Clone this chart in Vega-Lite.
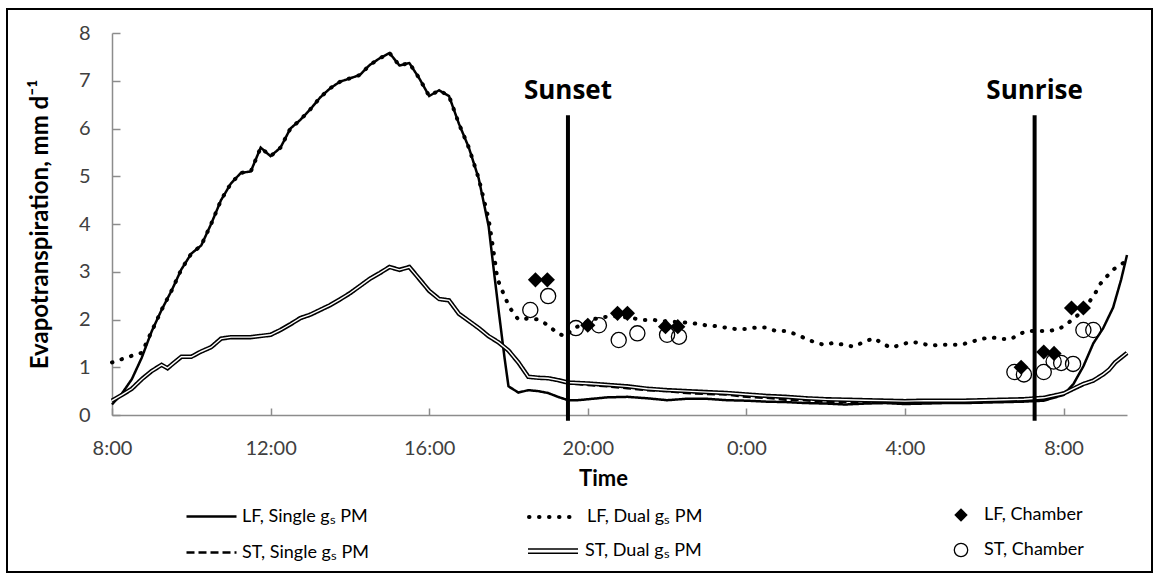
{
  "$schema": "https://vega.github.io/schema/vega-lite/v6.json",
  "width": 1145,
  "height": 563,
  "autosize": {"type": "none"},
  "padding": {"left": 7, "top": 9, "right": 8, "bottom": 8},
  "background": "white",
  "datasets": {
    "lines": [
      {"s": "LF, Single gₛ PM", "h": 8.0, "v": 0.22},
      {"s": "LF, Single gₛ PM", "h": 8.25, "v": 0.45},
      {"s": "LF, Single gₛ PM", "h": 8.5, "v": 0.75},
      {"s": "LF, Single gₛ PM", "h": 8.75, "v": 1.2},
      {"s": "LF, Single gₛ PM", "h": 9.0, "v": 1.75},
      {"s": "LF, Single gₛ PM", "h": 9.25, "v": 2.2},
      {"s": "LF, Single gₛ PM", "h": 9.5, "v": 2.6},
      {"s": "LF, Single gₛ PM", "h": 9.75, "v": 3.05},
      {"s": "LF, Single gₛ PM", "h": 10.0, "v": 3.38},
      {"s": "LF, Single gₛ PM", "h": 10.25, "v": 3.55},
      {"s": "LF, Single gₛ PM", "h": 10.5, "v": 4.0},
      {"s": "LF, Single gₛ PM", "h": 10.75, "v": 4.5},
      {"s": "LF, Single gₛ PM", "h": 11.0, "v": 4.85},
      {"s": "LF, Single gₛ PM", "h": 11.25, "v": 5.07},
      {"s": "LF, Single gₛ PM", "h": 11.5, "v": 5.1},
      {"s": "LF, Single gₛ PM", "h": 11.75, "v": 5.6},
      {"s": "LF, Single gₛ PM", "h": 12.0, "v": 5.42},
      {"s": "LF, Single gₛ PM", "h": 12.25, "v": 5.6},
      {"s": "LF, Single gₛ PM", "h": 12.5, "v": 6.0},
      {"s": "LF, Single gₛ PM", "h": 12.75, "v": 6.18},
      {"s": "LF, Single gₛ PM", "h": 13.0, "v": 6.4},
      {"s": "LF, Single gₛ PM", "h": 13.25, "v": 6.65},
      {"s": "LF, Single gₛ PM", "h": 13.5, "v": 6.84},
      {"s": "LF, Single gₛ PM", "h": 13.75, "v": 6.98},
      {"s": "LF, Single gₛ PM", "h": 14.0, "v": 7.05},
      {"s": "LF, Single gₛ PM", "h": 14.25, "v": 7.12},
      {"s": "LF, Single gₛ PM", "h": 14.5, "v": 7.33},
      {"s": "LF, Single gₛ PM", "h": 14.75, "v": 7.47},
      {"s": "LF, Single gₛ PM", "h": 15.0, "v": 7.58},
      {"s": "LF, Single gₛ PM", "h": 15.25, "v": 7.32},
      {"s": "LF, Single gₛ PM", "h": 15.5, "v": 7.37},
      {"s": "LF, Single gₛ PM", "h": 15.75, "v": 7.05},
      {"s": "LF, Single gₛ PM", "h": 16.0, "v": 6.68},
      {"s": "LF, Single gₛ PM", "h": 16.25, "v": 6.8},
      {"s": "LF, Single gₛ PM", "h": 16.5, "v": 6.68},
      {"s": "LF, Single gₛ PM", "h": 16.75, "v": 6.1},
      {"s": "LF, Single gₛ PM", "h": 17.0, "v": 5.6},
      {"s": "LF, Single gₛ PM", "h": 17.25, "v": 4.95},
      {"s": "LF, Single gₛ PM", "h": 17.5, "v": 3.95},
      {"s": "LF, Single gₛ PM", "h": 17.62, "v": 3.1},
      {"s": "LF, Single gₛ PM", "h": 17.75, "v": 2.2},
      {"s": "LF, Single gₛ PM", "h": 17.9, "v": 1.2},
      {"s": "LF, Single gₛ PM", "h": 18.0, "v": 0.6},
      {"s": "LF, Single gₛ PM", "h": 18.25, "v": 0.47},
      {"s": "LF, Single gₛ PM", "h": 18.5, "v": 0.52},
      {"s": "LF, Single gₛ PM", "h": 18.75, "v": 0.5},
      {"s": "LF, Single gₛ PM", "h": 19.0, "v": 0.46},
      {"s": "LF, Single gₛ PM", "h": 19.25, "v": 0.38},
      {"s": "LF, Single gₛ PM", "h": 19.5, "v": 0.31},
      {"s": "LF, Single gₛ PM", "h": 19.75, "v": 0.31},
      {"s": "LF, Single gₛ PM", "h": 20.0, "v": 0.33},
      {"s": "LF, Single gₛ PM", "h": 20.5, "v": 0.37},
      {"s": "LF, Single gₛ PM", "h": 21.0, "v": 0.38},
      {"s": "LF, Single gₛ PM", "h": 21.5, "v": 0.35},
      {"s": "LF, Single gₛ PM", "h": 22.0, "v": 0.31},
      {"s": "LF, Single gₛ PM", "h": 22.5, "v": 0.34},
      {"s": "LF, Single gₛ PM", "h": 23.0, "v": 0.34},
      {"s": "LF, Single gₛ PM", "h": 23.5, "v": 0.31},
      {"s": "LF, Single gₛ PM", "h": 24.0, "v": 0.3},
      {"s": "LF, Single gₛ PM", "h": 24.5, "v": 0.28},
      {"s": "LF, Single gₛ PM", "h": 25.0, "v": 0.27},
      {"s": "LF, Single gₛ PM", "h": 25.5, "v": 0.25},
      {"s": "LF, Single gₛ PM", "h": 26.0, "v": 0.24},
      {"s": "LF, Single gₛ PM", "h": 26.5, "v": 0.22},
      {"s": "LF, Single gₛ PM", "h": 27.0, "v": 0.24},
      {"s": "LF, Single gₛ PM", "h": 27.5, "v": 0.25},
      {"s": "LF, Single gₛ PM", "h": 28.0, "v": 0.23},
      {"s": "LF, Single gₛ PM", "h": 28.5, "v": 0.24},
      {"s": "LF, Single gₛ PM", "h": 29.0, "v": 0.25},
      {"s": "LF, Single gₛ PM", "h": 29.5, "v": 0.25},
      {"s": "LF, Single gₛ PM", "h": 30.0, "v": 0.26},
      {"s": "LF, Single gₛ PM", "h": 30.5, "v": 0.27},
      {"s": "LF, Single gₛ PM", "h": 31.0, "v": 0.28},
      {"s": "LF, Single gₛ PM", "h": 31.5, "v": 0.3},
      {"s": "LF, Single gₛ PM", "h": 32.0, "v": 0.42},
      {"s": "LF, Single gₛ PM", "h": 32.25, "v": 0.65},
      {"s": "LF, Single gₛ PM", "h": 32.5, "v": 1.02},
      {"s": "LF, Single gₛ PM", "h": 32.75, "v": 1.5},
      {"s": "LF, Single gₛ PM", "h": 33.0, "v": 1.82},
      {"s": "LF, Single gₛ PM", "h": 33.25, "v": 2.25},
      {"s": "LF, Single gₛ PM", "h": 33.45, "v": 2.83},
      {"s": "LF, Single gₛ PM", "h": 33.6, "v": 3.35},

      {"s": "ST, Single gₛ PM", "h": 8.0, "v": 0.3},
      {"s": "ST, Single gₛ PM", "h": 8.25, "v": 0.42},
      {"s": "ST, Single gₛ PM", "h": 8.5, "v": 0.55},
      {"s": "ST, Single gₛ PM", "h": 8.75, "v": 0.75},
      {"s": "ST, Single gₛ PM", "h": 9.0, "v": 0.92},
      {"s": "ST, Single gₛ PM", "h": 9.25, "v": 1.05},
      {"s": "ST, Single gₛ PM", "h": 9.4, "v": 0.98},
      {"s": "ST, Single gₛ PM", "h": 9.5, "v": 1.05},
      {"s": "ST, Single gₛ PM", "h": 9.75, "v": 1.22},
      {"s": "ST, Single gₛ PM", "h": 10.0, "v": 1.22},
      {"s": "ST, Single gₛ PM", "h": 10.25, "v": 1.33},
      {"s": "ST, Single gₛ PM", "h": 10.5, "v": 1.42},
      {"s": "ST, Single gₛ PM", "h": 10.75, "v": 1.6},
      {"s": "ST, Single gₛ PM", "h": 11.0, "v": 1.63},
      {"s": "ST, Single gₛ PM", "h": 11.5, "v": 1.63},
      {"s": "ST, Single gₛ PM", "h": 12.0, "v": 1.68},
      {"s": "ST, Single gₛ PM", "h": 12.25, "v": 1.78},
      {"s": "ST, Single gₛ PM", "h": 12.5, "v": 1.9},
      {"s": "ST, Single gₛ PM", "h": 12.75, "v": 2.03},
      {"s": "ST, Single gₛ PM", "h": 13.0, "v": 2.1},
      {"s": "ST, Single gₛ PM", "h": 13.25, "v": 2.2},
      {"s": "ST, Single gₛ PM", "h": 13.5, "v": 2.3},
      {"s": "ST, Single gₛ PM", "h": 13.75, "v": 2.42},
      {"s": "ST, Single gₛ PM", "h": 14.0, "v": 2.55},
      {"s": "ST, Single gₛ PM", "h": 14.25, "v": 2.7},
      {"s": "ST, Single gₛ PM", "h": 14.5, "v": 2.85},
      {"s": "ST, Single gₛ PM", "h": 14.75, "v": 2.97},
      {"s": "ST, Single gₛ PM", "h": 15.0, "v": 3.1},
      {"s": "ST, Single gₛ PM", "h": 15.25, "v": 3.04},
      {"s": "ST, Single gₛ PM", "h": 15.5, "v": 3.1},
      {"s": "ST, Single gₛ PM", "h": 15.75, "v": 2.85},
      {"s": "ST, Single gₛ PM", "h": 16.0, "v": 2.6},
      {"s": "ST, Single gₛ PM", "h": 16.25, "v": 2.43},
      {"s": "ST, Single gₛ PM", "h": 16.5, "v": 2.4},
      {"s": "ST, Single gₛ PM", "h": 16.75, "v": 2.12},
      {"s": "ST, Single gₛ PM", "h": 17.0, "v": 1.97},
      {"s": "ST, Single gₛ PM", "h": 17.25, "v": 1.82},
      {"s": "ST, Single gₛ PM", "h": 17.5, "v": 1.65},
      {"s": "ST, Single gₛ PM", "h": 17.75, "v": 1.52},
      {"s": "ST, Single gₛ PM", "h": 18.0, "v": 1.35},
      {"s": "ST, Single gₛ PM", "h": 18.25, "v": 1.1},
      {"s": "ST, Single gₛ PM", "h": 18.5, "v": 0.8},
      {"s": "ST, Single gₛ PM", "h": 18.75, "v": 0.78},
      {"s": "ST, Single gₛ PM", "h": 19.0, "v": 0.77},
      {"s": "ST, Single gₛ PM", "h": 19.25, "v": 0.72},
      {"s": "ST, Single gₛ PM", "h": 19.5, "v": 0.67},
      {"s": "ST, Single gₛ PM", "h": 20.0, "v": 0.63},
      {"s": "ST, Single gₛ PM", "h": 20.5, "v": 0.6},
      {"s": "ST, Single gₛ PM", "h": 21.0, "v": 0.56},
      {"s": "ST, Single gₛ PM", "h": 21.5, "v": 0.52},
      {"s": "ST, Single gₛ PM", "h": 22.0, "v": 0.5},
      {"s": "ST, Single gₛ PM", "h": 22.5, "v": 0.46},
      {"s": "ST, Single gₛ PM", "h": 23.0, "v": 0.44},
      {"s": "ST, Single gₛ PM", "h": 23.5, "v": 0.43},
      {"s": "ST, Single gₛ PM", "h": 24.0, "v": 0.38},
      {"s": "ST, Single gₛ PM", "h": 24.5, "v": 0.36},
      {"s": "ST, Single gₛ PM", "h": 25.0, "v": 0.32},
      {"s": "ST, Single gₛ PM", "h": 25.5, "v": 0.31},
      {"s": "ST, Single gₛ PM", "h": 26.0, "v": 0.27},
      {"s": "ST, Single gₛ PM", "h": 26.5, "v": 0.28},
      {"s": "ST, Single gₛ PM", "h": 27.0, "v": 0.26},
      {"s": "ST, Single gₛ PM", "h": 27.5, "v": 0.27},
      {"s": "ST, Single gₛ PM", "h": 28.0, "v": 0.25},
      {"s": "ST, Single gₛ PM", "h": 28.5, "v": 0.27},
      {"s": "ST, Single gₛ PM", "h": 29.0, "v": 0.27},
      {"s": "ST, Single gₛ PM", "h": 29.5, "v": 0.28},
      {"s": "ST, Single gₛ PM", "h": 30.0, "v": 0.29},
      {"s": "ST, Single gₛ PM", "h": 30.5, "v": 0.3},
      {"s": "ST, Single gₛ PM", "h": 31.0, "v": 0.31},
      {"s": "ST, Single gₛ PM", "h": 31.5, "v": 0.35},
      {"s": "ST, Single gₛ PM", "h": 32.0, "v": 0.44},
      {"s": "ST, Single gₛ PM", "h": 32.25, "v": 0.54},
      {"s": "ST, Single gₛ PM", "h": 32.5, "v": 0.63},
      {"s": "ST, Single gₛ PM", "h": 32.75, "v": 0.72},
      {"s": "ST, Single gₛ PM", "h": 33.0, "v": 0.85},
      {"s": "ST, Single gₛ PM", "h": 33.15, "v": 0.95},
      {"s": "ST, Single gₛ PM", "h": 33.3, "v": 1.1},
      {"s": "ST, Single gₛ PM", "h": 33.45, "v": 1.2},
      {"s": "ST, Single gₛ PM", "h": 33.6, "v": 1.3},

      {"s": "LF, Dual gₛ PM", "h": 8.0, "v": 1.1},
      {"s": "LF, Dual gₛ PM", "h": 8.25, "v": 1.17},
      {"s": "LF, Dual gₛ PM", "h": 8.5, "v": 1.24},
      {"s": "LF, Dual gₛ PM", "h": 8.75, "v": 1.3},
      {"s": "LF, Dual gₛ PM", "h": 9.0, "v": 1.75},
      {"s": "LF, Dual gₛ PM", "h": 9.25, "v": 2.2},
      {"s": "LF, Dual gₛ PM", "h": 9.5, "v": 2.6},
      {"s": "LF, Dual gₛ PM", "h": 9.75, "v": 3.05},
      {"s": "LF, Dual gₛ PM", "h": 10.0, "v": 3.38},
      {"s": "LF, Dual gₛ PM", "h": 10.25, "v": 3.55},
      {"s": "LF, Dual gₛ PM", "h": 10.5, "v": 4.0},
      {"s": "LF, Dual gₛ PM", "h": 10.75, "v": 4.5},
      {"s": "LF, Dual gₛ PM", "h": 11.0, "v": 4.85},
      {"s": "LF, Dual gₛ PM", "h": 11.25, "v": 5.07},
      {"s": "LF, Dual gₛ PM", "h": 11.5, "v": 5.1},
      {"s": "LF, Dual gₛ PM", "h": 11.75, "v": 5.6},
      {"s": "LF, Dual gₛ PM", "h": 12.0, "v": 5.42},
      {"s": "LF, Dual gₛ PM", "h": 12.25, "v": 5.6},
      {"s": "LF, Dual gₛ PM", "h": 12.5, "v": 6.0},
      {"s": "LF, Dual gₛ PM", "h": 12.75, "v": 6.18},
      {"s": "LF, Dual gₛ PM", "h": 13.0, "v": 6.4},
      {"s": "LF, Dual gₛ PM", "h": 13.25, "v": 6.65},
      {"s": "LF, Dual gₛ PM", "h": 13.5, "v": 6.84},
      {"s": "LF, Dual gₛ PM", "h": 13.75, "v": 6.98},
      {"s": "LF, Dual gₛ PM", "h": 14.0, "v": 7.05},
      {"s": "LF, Dual gₛ PM", "h": 14.25, "v": 7.12},
      {"s": "LF, Dual gₛ PM", "h": 14.5, "v": 7.33},
      {"s": "LF, Dual gₛ PM", "h": 14.75, "v": 7.47},
      {"s": "LF, Dual gₛ PM", "h": 15.0, "v": 7.58},
      {"s": "LF, Dual gₛ PM", "h": 15.25, "v": 7.32},
      {"s": "LF, Dual gₛ PM", "h": 15.5, "v": 7.37},
      {"s": "LF, Dual gₛ PM", "h": 15.75, "v": 7.05},
      {"s": "LF, Dual gₛ PM", "h": 16.0, "v": 6.68},
      {"s": "LF, Dual gₛ PM", "h": 16.25, "v": 6.8},
      {"s": "LF, Dual gₛ PM", "h": 16.5, "v": 6.68},
      {"s": "LF, Dual gₛ PM", "h": 16.75, "v": 6.1},
      {"s": "LF, Dual gₛ PM", "h": 17.0, "v": 5.6},
      {"s": "LF, Dual gₛ PM", "h": 17.25, "v": 4.95},
      {"s": "LF, Dual gₛ PM", "h": 17.5, "v": 4.1},
      {"s": "LF, Dual gₛ PM", "h": 17.62, "v": 3.45},
      {"s": "LF, Dual gₛ PM", "h": 17.72, "v": 2.85},
      {"s": "LF, Dual gₛ PM", "h": 17.87, "v": 2.55},
      {"s": "LF, Dual gₛ PM", "h": 18.0, "v": 2.3},
      {"s": "LF, Dual gₛ PM", "h": 18.1, "v": 2.16},
      {"s": "LF, Dual gₛ PM", "h": 18.25, "v": 2.0},
      {"s": "LF, Dual gₛ PM", "h": 18.5, "v": 2.02},
      {"s": "LF, Dual gₛ PM", "h": 18.75, "v": 2.0},
      {"s": "LF, Dual gₛ PM", "h": 19.0, "v": 1.88},
      {"s": "LF, Dual gₛ PM", "h": 19.25, "v": 1.7},
      {"s": "LF, Dual gₛ PM", "h": 19.45, "v": 1.65},
      {"s": "LF, Dual gₛ PM", "h": 19.6, "v": 1.8},
      {"s": "LF, Dual gₛ PM", "h": 19.82, "v": 1.88},
      {"s": "LF, Dual gₛ PM", "h": 20.07, "v": 1.99},
      {"s": "LF, Dual gₛ PM", "h": 20.37, "v": 2.05},
      {"s": "LF, Dual gₛ PM", "h": 20.75, "v": 2.07},
      {"s": "LF, Dual gₛ PM", "h": 21.1, "v": 2.03},
      {"s": "LF, Dual gₛ PM", "h": 21.4, "v": 1.99},
      {"s": "LF, Dual gₛ PM", "h": 21.66, "v": 1.99},
      {"s": "LF, Dual gₛ PM", "h": 22.0, "v": 1.96},
      {"s": "LF, Dual gₛ PM", "h": 22.4, "v": 1.94},
      {"s": "LF, Dual gₛ PM", "h": 22.67, "v": 1.92},
      {"s": "LF, Dual gₛ PM", "h": 22.97, "v": 1.88},
      {"s": "LF, Dual gₛ PM", "h": 23.23, "v": 1.86},
      {"s": "LF, Dual gₛ PM", "h": 23.48, "v": 1.83},
      {"s": "LF, Dual gₛ PM", "h": 23.73, "v": 1.8},
      {"s": "LF, Dual gₛ PM", "h": 23.98, "v": 1.8},
      {"s": "LF, Dual gₛ PM", "h": 24.24, "v": 1.83},
      {"s": "LF, Dual gₛ PM", "h": 24.49, "v": 1.83},
      {"s": "LF, Dual gₛ PM", "h": 24.74, "v": 1.76},
      {"s": "LF, Dual gₛ PM", "h": 25.0, "v": 1.76},
      {"s": "LF, Dual gₛ PM", "h": 25.25, "v": 1.69},
      {"s": "LF, Dual gₛ PM", "h": 25.5, "v": 1.6},
      {"s": "LF, Dual gₛ PM", "h": 25.7, "v": 1.53},
      {"s": "LF, Dual gₛ PM", "h": 25.95, "v": 1.47},
      {"s": "LF, Dual gₛ PM", "h": 26.2, "v": 1.51},
      {"s": "LF, Dual gₛ PM", "h": 26.46, "v": 1.47},
      {"s": "LF, Dual gₛ PM", "h": 26.71, "v": 1.43},
      {"s": "LF, Dual gₛ PM", "h": 26.96, "v": 1.53},
      {"s": "LF, Dual gₛ PM", "h": 27.22, "v": 1.61},
      {"s": "LF, Dual gₛ PM", "h": 27.44, "v": 1.49},
      {"s": "LF, Dual gₛ PM", "h": 27.65, "v": 1.41},
      {"s": "LF, Dual gₛ PM", "h": 27.9, "v": 1.47},
      {"s": "LF, Dual gₛ PM", "h": 28.13, "v": 1.53},
      {"s": "LF, Dual gₛ PM", "h": 28.38, "v": 1.51},
      {"s": "LF, Dual gₛ PM", "h": 28.63, "v": 1.45},
      {"s": "LF, Dual gₛ PM", "h": 28.88, "v": 1.47},
      {"s": "LF, Dual gₛ PM", "h": 29.14, "v": 1.47},
      {"s": "LF, Dual gₛ PM", "h": 29.4, "v": 1.47},
      {"s": "LF, Dual gₛ PM", "h": 29.67, "v": 1.53},
      {"s": "LF, Dual gₛ PM", "h": 29.92, "v": 1.59},
      {"s": "LF, Dual gₛ PM", "h": 30.17, "v": 1.63},
      {"s": "LF, Dual gₛ PM", "h": 30.42, "v": 1.59},
      {"s": "LF, Dual gₛ PM", "h": 30.68, "v": 1.59},
      {"s": "LF, Dual gₛ PM", "h": 30.88, "v": 1.7},
      {"s": "LF, Dual gₛ PM", "h": 31.13, "v": 1.76},
      {"s": "LF, Dual gₛ PM", "h": 31.38, "v": 1.76},
      {"s": "LF, Dual gₛ PM", "h": 31.64, "v": 1.76},
      {"s": "LF, Dual gₛ PM", "h": 31.89, "v": 1.8},
      {"s": "LF, Dual gₛ PM", "h": 32.12, "v": 1.93},
      {"s": "LF, Dual gₛ PM", "h": 32.4, "v": 2.12},
      {"s": "LF, Dual gₛ PM", "h": 32.65, "v": 2.37},
      {"s": "LF, Dual gₛ PM", "h": 32.8, "v": 2.55},
      {"s": "LF, Dual gₛ PM", "h": 32.92, "v": 2.74},
      {"s": "LF, Dual gₛ PM", "h": 33.1, "v": 2.91},
      {"s": "LF, Dual gₛ PM", "h": 33.28, "v": 3.06},
      {"s": "LF, Dual gₛ PM", "h": 33.5, "v": 3.18},
      {"s": "LF, Dual gₛ PM", "h": 33.6, "v": 3.3},

      {"s": "ST, Dual gₛ PM", "h": 8.0, "v": 0.3},
      {"s": "ST, Dual gₛ PM", "h": 8.25, "v": 0.42},
      {"s": "ST, Dual gₛ PM", "h": 8.5, "v": 0.55},
      {"s": "ST, Dual gₛ PM", "h": 8.75, "v": 0.75},
      {"s": "ST, Dual gₛ PM", "h": 9.0, "v": 0.92},
      {"s": "ST, Dual gₛ PM", "h": 9.25, "v": 1.05},
      {"s": "ST, Dual gₛ PM", "h": 9.4, "v": 0.98},
      {"s": "ST, Dual gₛ PM", "h": 9.5, "v": 1.05},
      {"s": "ST, Dual gₛ PM", "h": 9.75, "v": 1.22},
      {"s": "ST, Dual gₛ PM", "h": 10.0, "v": 1.22},
      {"s": "ST, Dual gₛ PM", "h": 10.25, "v": 1.33},
      {"s": "ST, Dual gₛ PM", "h": 10.5, "v": 1.42},
      {"s": "ST, Dual gₛ PM", "h": 10.75, "v": 1.6},
      {"s": "ST, Dual gₛ PM", "h": 11.0, "v": 1.63},
      {"s": "ST, Dual gₛ PM", "h": 11.5, "v": 1.63},
      {"s": "ST, Dual gₛ PM", "h": 12.0, "v": 1.68},
      {"s": "ST, Dual gₛ PM", "h": 12.25, "v": 1.78},
      {"s": "ST, Dual gₛ PM", "h": 12.5, "v": 1.9},
      {"s": "ST, Dual gₛ PM", "h": 12.75, "v": 2.03},
      {"s": "ST, Dual gₛ PM", "h": 13.0, "v": 2.1},
      {"s": "ST, Dual gₛ PM", "h": 13.25, "v": 2.2},
      {"s": "ST, Dual gₛ PM", "h": 13.5, "v": 2.3},
      {"s": "ST, Dual gₛ PM", "h": 13.75, "v": 2.42},
      {"s": "ST, Dual gₛ PM", "h": 14.0, "v": 2.55},
      {"s": "ST, Dual gₛ PM", "h": 14.25, "v": 2.7},
      {"s": "ST, Dual gₛ PM", "h": 14.5, "v": 2.85},
      {"s": "ST, Dual gₛ PM", "h": 14.75, "v": 2.97},
      {"s": "ST, Dual gₛ PM", "h": 15.0, "v": 3.1},
      {"s": "ST, Dual gₛ PM", "h": 15.25, "v": 3.04},
      {"s": "ST, Dual gₛ PM", "h": 15.5, "v": 3.1},
      {"s": "ST, Dual gₛ PM", "h": 15.75, "v": 2.85},
      {"s": "ST, Dual gₛ PM", "h": 16.0, "v": 2.6},
      {"s": "ST, Dual gₛ PM", "h": 16.25, "v": 2.43},
      {"s": "ST, Dual gₛ PM", "h": 16.5, "v": 2.4},
      {"s": "ST, Dual gₛ PM", "h": 16.75, "v": 2.12},
      {"s": "ST, Dual gₛ PM", "h": 17.0, "v": 1.97},
      {"s": "ST, Dual gₛ PM", "h": 17.25, "v": 1.82},
      {"s": "ST, Dual gₛ PM", "h": 17.5, "v": 1.65},
      {"s": "ST, Dual gₛ PM", "h": 17.75, "v": 1.52},
      {"s": "ST, Dual gₛ PM", "h": 18.0, "v": 1.35},
      {"s": "ST, Dual gₛ PM", "h": 18.25, "v": 1.1},
      {"s": "ST, Dual gₛ PM", "h": 18.5, "v": 0.8},
      {"s": "ST, Dual gₛ PM", "h": 18.75, "v": 0.78},
      {"s": "ST, Dual gₛ PM", "h": 19.0, "v": 0.77},
      {"s": "ST, Dual gₛ PM", "h": 19.25, "v": 0.73},
      {"s": "ST, Dual gₛ PM", "h": 19.5, "v": 0.68},
      {"s": "ST, Dual gₛ PM", "h": 20.0, "v": 0.66},
      {"s": "ST, Dual gₛ PM", "h": 20.5, "v": 0.63},
      {"s": "ST, Dual gₛ PM", "h": 21.0, "v": 0.6},
      {"s": "ST, Dual gₛ PM", "h": 21.5, "v": 0.55},
      {"s": "ST, Dual gₛ PM", "h": 22.0, "v": 0.52},
      {"s": "ST, Dual gₛ PM", "h": 22.5, "v": 0.5},
      {"s": "ST, Dual gₛ PM", "h": 23.0, "v": 0.48},
      {"s": "ST, Dual gₛ PM", "h": 23.5, "v": 0.46},
      {"s": "ST, Dual gₛ PM", "h": 24.0, "v": 0.43},
      {"s": "ST, Dual gₛ PM", "h": 24.5, "v": 0.4},
      {"s": "ST, Dual gₛ PM", "h": 25.0, "v": 0.38},
      {"s": "ST, Dual gₛ PM", "h": 25.5, "v": 0.35},
      {"s": "ST, Dual gₛ PM", "h": 26.0, "v": 0.33},
      {"s": "ST, Dual gₛ PM", "h": 26.5, "v": 0.32},
      {"s": "ST, Dual gₛ PM", "h": 27.0, "v": 0.31},
      {"s": "ST, Dual gₛ PM", "h": 27.5, "v": 0.3},
      {"s": "ST, Dual gₛ PM", "h": 28.0, "v": 0.29},
      {"s": "ST, Dual gₛ PM", "h": 28.5, "v": 0.3},
      {"s": "ST, Dual gₛ PM", "h": 29.0, "v": 0.3},
      {"s": "ST, Dual gₛ PM", "h": 29.5, "v": 0.3},
      {"s": "ST, Dual gₛ PM", "h": 30.0, "v": 0.31},
      {"s": "ST, Dual gₛ PM", "h": 30.5, "v": 0.32},
      {"s": "ST, Dual gₛ PM", "h": 31.0, "v": 0.33},
      {"s": "ST, Dual gₛ PM", "h": 31.5, "v": 0.36},
      {"s": "ST, Dual gₛ PM", "h": 32.0, "v": 0.45},
      {"s": "ST, Dual gₛ PM", "h": 32.25, "v": 0.55},
      {"s": "ST, Dual gₛ PM", "h": 32.5, "v": 0.65},
      {"s": "ST, Dual gₛ PM", "h": 32.75, "v": 0.72},
      {"s": "ST, Dual gₛ PM", "h": 33.0, "v": 0.85},
      {"s": "ST, Dual gₛ PM", "h": 33.15, "v": 0.95},
      {"s": "ST, Dual gₛ PM", "h": 33.3, "v": 1.1},
      {"s": "ST, Dual gₛ PM", "h": 33.45, "v": 1.2},
      {"s": "ST, Dual gₛ PM", "h": 33.6, "v": 1.3}
    ],
    "chamber": [
      {"s": "LF, Chamber", "h": 18.68, "v": 2.83},
      {"s": "LF, Chamber", "h": 18.98, "v": 2.83},
      {"s": "LF, Chamber", "h": 20.0, "v": 1.88},
      {"s": "LF, Chamber", "h": 20.75, "v": 2.13},
      {"s": "LF, Chamber", "h": 21.0, "v": 2.13},
      {"s": "LF, Chamber", "h": 21.96, "v": 1.85},
      {"s": "LF, Chamber", "h": 22.27, "v": 1.85},
      {"s": "LF, Chamber", "h": 30.93, "v": 1.0},
      {"s": "LF, Chamber", "h": 31.5, "v": 1.32},
      {"s": "LF, Chamber", "h": 31.76, "v": 1.29},
      {"s": "LF, Chamber", "h": 32.2, "v": 2.24},
      {"s": "LF, Chamber", "h": 32.5, "v": 2.24},
      {"s": "ST, Chamber", "h": 18.55, "v": 2.2},
      {"s": "ST, Chamber", "h": 19.0, "v": 2.49},
      {"s": "ST, Chamber", "h": 19.7, "v": 1.82},
      {"s": "ST, Chamber", "h": 20.28, "v": 1.88},
      {"s": "ST, Chamber", "h": 20.78, "v": 1.57},
      {"s": "ST, Chamber", "h": 21.25, "v": 1.71},
      {"s": "ST, Chamber", "h": 22.0, "v": 1.68},
      {"s": "ST, Chamber", "h": 22.3, "v": 1.64},
      {"s": "ST, Chamber", "h": 30.76, "v": 0.9},
      {"s": "ST, Chamber", "h": 31.0, "v": 0.85},
      {"s": "ST, Chamber", "h": 31.5, "v": 0.9},
      {"s": "ST, Chamber", "h": 31.75, "v": 1.12},
      {"s": "ST, Chamber", "h": 31.94, "v": 1.09},
      {"s": "ST, Chamber", "h": 32.24, "v": 1.07},
      {"s": "ST, Chamber", "h": 32.5, "v": 1.78},
      {"s": "ST, Chamber", "h": 32.75, "v": 1.78}
    ],
    "events": [
      {"h": 19.5, "label": "Sunset"},
      {"h": 31.27, "label": "Sunrise"}
    ]
  },
  "layer": [
    {
      "data": {"name": "lines"},
      "transform": [{"filter": {"field": "s", "oneOf": ["LF, Single gₛ PM", "ST, Single gₛ PM"]}}],
      "mark": {"type": "line", "color": "black", "strokeWidth": 2.5},
      "encoding": {
        "x": {"field": "h", "type": "quantitative", "scale": {"domain": [8, 33.6], "range": [105, 1120], "nice": false, "zero": false},
          "axis": {"offset": -157, "values": [8, 12, 16, 20, 24, 28, 32], "labelExpr": "(datum.value % 24) + ':00'", "title": "Time", "tickSize": -7, "labelPadding": 30, "titleX": 596, "titleY": 63, "titleBaseline": "middle"}},
        "y": {"field": "v", "type": "quantitative", "scale": {"domain": [0, 8], "range": [406, 24], "nice": false},
          "axis": {"offset": -105, "values": [0, 1, 2, 3, 4, 5, 6, 7, 8], "format": "d", "title": "Evapotranspiration,  mm d⁻¹", "titleFontSize": 24, "tickSize": -8, "labelPadding": 30, "titleX": -72, "titleBaseline": "middle"}},
        "strokeDash": {"field": "s", "type": "nominal",
          "scale": {"domain": ["LF, Single gₛ PM", "ST, Single gₛ PM"], "range": [[1, 0], [8, 4]]},
          "legend": {"title": null, "orient": "none", "legendX": 178, "legendY": 481, "symbolType": "stroke", "symbolSize": 2500, "symbolStrokeWidth": 2.5, "rowPadding": -15, "labelOffset": 4}}
      }
    },
    {
      "data": {"name": "lines"},
      "transform": [{"filter": {"field": "s", "equal": "ST, Dual gₛ PM"}}],
      "mark": {"type": "line", "color": "black", "strokeWidth": 4.5},
      "encoding": {
        "x": {"field": "h", "type": "quantitative"},
        "y": {"field": "v", "type": "quantitative"},
        "strokeDash": {"field": "s", "type": "nominal",
          "scale": {"domain": ["ST, Dual gₛ PM"], "range": [[1, 0]]},
          "legend": {"title": null, "orient": "none", "legendX": 520, "legendY": 516, "symbolType": "M-1,-0.085H1M-1,0.085H1", "symbolSize": 2500, "symbolStrokeWidth": 1.5, "labelOffset": 6}}
      }
    },
    {
      "data": {"name": "lines"},
      "transform": [{"filter": {"field": "s", "equal": "ST, Dual gₛ PM"}}],
      "mark": {"type": "line", "color": "white", "strokeWidth": 1.4},
      "encoding": {
        "x": {"field": "h", "type": "quantitative"},
        "y": {"field": "v", "type": "quantitative"}
      }
    },
    {
      "data": {"name": "lines"},
      "transform": [{"filter": {"field": "s", "equal": "LF, Dual gₛ PM"}}],
      "mark": {"type": "line", "color": "black", "strokeWidth": 4, "strokeCap": "round"},
      "encoding": {
        "x": {"field": "h", "type": "quantitative"},
        "y": {"field": "v", "type": "quantitative"},
        "strokeDash": {"field": "s", "type": "nominal",
          "scale": {"domain": ["LF, Dual gₛ PM"], "range": [[0.5, 9.5]]},
          "legend": {"title": null, "orient": "none", "legendX": 520, "legendY": 481, "symbolType": "stroke", "symbolSize": 2500, "symbolStrokeWidth": 4, "labelOffset": 6,
            "encode": {"symbols": {"update": {"strokeCap": {"value": "round"}}}}}}
      }
    },
    {
      "data": {"name": "events"},
      "mark": {"type": "rule", "color": "black", "strokeWidth": 4},
      "encoding": {
        "x": {"field": "h", "type": "quantitative"},
        "y": {"datum": 6.28},
        "y2": {"datum": -0.12}
      }
    },
    {
      "data": {"name": "events"},
      "mark": {"type": "text", "font": "Open Sans", "fontWeight": "bold", "fontSize": 26, "align": "center", "baseline": "middle", "color": "black"},
      "encoding": {
        "x": {"field": "h", "type": "quantitative"},
        "y": {"datum": 6.78},
        "text": {"field": "label"}
      }
    },
    {
      "data": {"name": "chamber"},
      "transform": [{"filter": {"field": "s", "equal": "LF, Chamber"}}],
      "mark": {"type": "point", "filled": true, "color": "black", "size": 230, "opacity": 1},
      "encoding": {
        "x": {"field": "h", "type": "quantitative"},
        "y": {"field": "v", "type": "quantitative"},
        "shape": {"field": "s", "type": "nominal",
          "scale": {"domain": ["LF, Chamber"], "range": ["diamond"]},
          "legend": {"title": null, "orient": "none", "legendX": 945, "legendY": 497, "labelOffset": 14, "symbolSize": 180, "symbolFillColor": "black"}}
      }
    },
    {
      "data": {"name": "chamber"},
      "transform": [{"filter": {"field": "s", "equal": "ST, Chamber"}}],
      "mark": {"type": "point", "filled": false, "color": "black", "strokeWidth": 1.3, "size": 230, "opacity": 1},
      "encoding": {
        "x": {"field": "h", "type": "quantitative"},
        "y": {"field": "v", "type": "quantitative"},
        "shape": {"field": "s", "type": "nominal",
          "scale": {"domain": ["ST, Chamber"], "range": ["circle"]},
          "legend": {"title": null, "orient": "none", "legendX": 945, "legendY": 532, "labelOffset": 14, "symbolSize": 180, "symbolStrokeColor": "black", "symbolStrokeWidth": 1.3}}
      }
    }
  ],
  "resolve": {"scale": {"strokeDash": "independent", "shape": "independent"}},
  "config": {
    "view": {"stroke": "black", "strokeWidth": 2},
    "font": "Lato",
    "axis": {"labelFont": "Lato", "labelFontSize": 20, "labelColor": "#404040", "labelFlush": false, "domainColor": "#8c8c8c", "domainWidth": 1.5, "tickColor": "#8c8c8c", "tickWidth": 1.5, "titleFont": "Lato", "titleFontSize": 22, "titleFontWeight": "bold", "titleColor": "black", "grid": false},
    "legend": {"labelFont": "Lato", "labelFontSize": 18, "labelColor": "black", "symbolStrokeColor": "black", "padding": 0, "labelLimit": 300}
  }
}
